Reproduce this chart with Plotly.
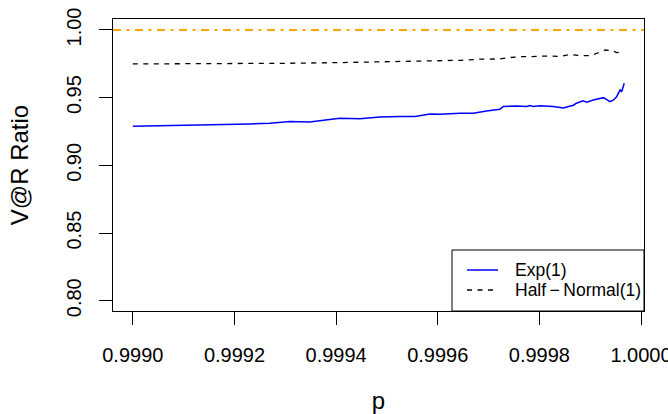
import plotly.graph_objects as go

# Exp(1) V@R ratio
p_exp = [0.99900, 0.999053, 0.999112, 0.999171, 0.999230, 0.999270, 0.999309, 0.999348,
         0.999407, 0.999447, 0.999486, 0.999526, 0.999555, 0.999585, 0.999604, 0.999644,
         0.999670, 0.999696, 0.999722, 0.999729, 0.999755, 0.999775, 0.999781, 0.999788,
         0.999801, 0.999827, 0.999847, 0.999867, 0.999873, 0.999886, 0.999893, 0.999906,
         0.999926, 0.999932, 0.999939, 0.999946, 0.999952, 0.999959, 0.999962, 0.999967]
v_exp = [0.9289, 0.9292, 0.9296, 0.9301, 0.9306, 0.9311, 0.9324, 0.9320,
         0.9348, 0.9345, 0.9357, 0.9360, 0.9361, 0.9380, 0.9377, 0.9384,
         0.9385, 0.9402, 0.9414, 0.9434, 0.9439, 0.9434, 0.9441, 0.9434,
         0.9441, 0.9434, 0.9424, 0.9444, 0.9459, 0.9476, 0.9466, 0.9483,
         0.9500, 0.9488, 0.9470, 0.9483, 0.9507, 0.9557, 0.9544, 0.9606]

# Half-Normal(1) V@R ratio
p_hn = [0.99900, 0.999132, 0.999230, 0.999309, 0.999407, 0.999486, 0.999565, 0.999604,
        0.999644, 0.999683, 0.999722, 0.999742, 0.999762, 0.999781, 0.999801, 0.999821,
        0.999841, 0.999860, 0.999880, 0.999900, 0.999913, 0.999930, 0.999945, 0.999952,
        0.999962]
v_hn = [0.9749, 0.9749, 0.9753, 0.9754, 0.9759, 0.9764, 0.9771, 0.9773,
        0.9776, 0.9784, 0.9786, 0.9796, 0.9803, 0.9803, 0.9808, 0.9808,
        0.9803, 0.9820, 0.9810, 0.9810, 0.9828, 0.9852, 0.9845, 0.9833,
        0.9838]

ref_level = 1.0

series_names = ["Exp(1)", "Half\u2009\u2212\u2009Normal(1)"]

x_ticks = [0.9990, 0.9992, 0.9994, 0.9996, 0.9998, 1.0000]
x_labels = ["0.9990", "0.9992", "0.9994", "0.9996", "0.9998", "1.0000"]
y_ticks = [0.80, 0.85, 0.90, 0.95, 1.00]
y_labels = ["0.80", "0.85", "0.90", "0.95", "1.00"]

FONT = "Liberation Sans, Arial, Helvetica, sans-serif"
BLUE = "#0000FF"
DASH_HN = "5px,5.5px"

fig = go.Figure()
fig.add_trace(go.Scatter(x=p_exp, y=v_exp, mode="lines", name=series_names[0],
                         line=dict(color=BLUE, width=1.5)))
fig.add_trace(go.Scatter(x=p_hn, y=v_hn, mode="lines", name=series_names[1],
                         line=dict(color="black", width=1.3, dash=DASH_HN)))
fig.add_shape(type="line", xref="paper", yref="y", x0=0, x1=1, y0=ref_level, y1=ref_level,
              line=dict(color="#FFA500", width=2, dash="8px,5.5px,3px,5.5px"), layer="above")

# R-style legend box (bottom-right)
fig.add_shape(type="rect", xref="paper", yref="paper", x0=0.6384, x1=1.0, y0=0.0, y1=0.2089,
              line=dict(color="black", width=1), fillcolor="white", layer="above")
legend_rows = [(0.1404, BLUE, "solid", 1.5), (0.0719, "black", DASH_HN, 1.3)]
for name, (yy, col, dash, w) in zip(series_names, legend_rows):
    fig.add_shape(type="line", xref="paper", yref="paper", x0=0.6667, x1=0.7250, y0=yy, y1=yy,
                  line=dict(color=col, width=w, dash=dash), layer="above")
    fig.add_annotation(xref="paper", yref="paper", x=0.7533, y=yy, text=name,
                       xanchor="left", yanchor="middle", showarrow=False,
                       font=dict(size=17.5, color="black"))

fig.update_layout(
    width=668, height=414,
    margin=dict(l=113, r=24, t=19, b=103, autoexpand=False),
    paper_bgcolor="white", plot_bgcolor="white",
    font=dict(family=FONT, size=20, color="black"),
    showlegend=False,
    xaxis=dict(range=[0.998961, 1.0000059], tickvals=x_ticks, ticktext=x_labels,
               ticks="outside", ticklen=13, tickcolor="black", tickwidth=1,
               ticklabelstandoff=13, ticklabeloverflow="allow",
               showline=True, mirror=True, linecolor="black", linewidth=1,
               showgrid=False, zeroline=False, automargin=False,
               title=dict(text="p", standoff=28)),
    yaxis=dict(range=[0.7924, 1.0081], tickvals=y_ticks, ticktext=y_labels,
               tickangle=-90,
               ticks="outside", ticklen=13, tickcolor="black", tickwidth=1,
               ticklabelstandoff=10,
               showline=True, mirror=True, linecolor="black", linewidth=1,
               showgrid=False, zeroline=False, automargin=False,
               title=dict(text="V@R Ratio", standoff=27)),
)

fig.write_html("out.html")
